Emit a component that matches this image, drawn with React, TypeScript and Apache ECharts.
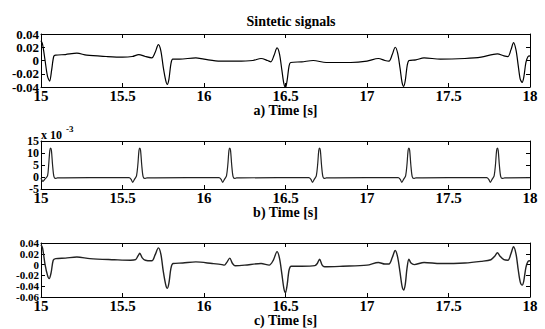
import React, { useEffect, useRef } from "react";
import * as echarts from "echarts";

const TITLE = "Sintetic signals";
const X_NAMES = ["a) Time [s]", "b) Time [s]", "c) Time [s]"];
const X_MIN = 15;
const X_MAX = 18;
const X_STEP = 0.5;
const Y_RANGES = [
  { min: -0.04, max: 0.04, step: 0.02 },
  { min: -5, max: 15, step: 5 },
  { min: -0.06, max: 0.04, step: 0.02 },
];
const B_SCALE_BASE = "x 10";
const B_SCALE_EXP = "-3";

// Signal a) (time [s], value)
const signalA: [number, number][] = [
  [15.0, 0.03], [15.01, 0.024], [15.025, 0.0], [15.04, -0.024], [15.053, -0.031],
  [15.065, -0.015], [15.078, 0.006], [15.09, 0.008], [15.15, 0.009], [15.22, 0.011],
  [15.28, 0.008], [15.4, 0.006], [15.5, 0.005], [15.56, 0.006], [15.6, 0.009],
  [15.64, 0.006], [15.68, 0.004], [15.7, 0.012], [15.72, 0.024], [15.735, 0.015],
  [15.75, -0.01], [15.765, -0.03], [15.775, -0.036], [15.785, -0.028], [15.797, -0.005],
  [15.808, 0.002], [15.85, 0.002], [15.95, 0.004], [16.0, 0.002], [16.1, -0.001],
  [16.2, -0.001], [16.3, 0.0], [16.35, 0.003], [16.39, 0.0], [16.41, -0.002],
  [16.43, 0.008], [16.448, 0.019], [16.463, 0.01], [16.478, -0.015], [16.49, -0.035],
  [16.5, -0.041], [16.51, -0.03], [16.522, -0.008], [16.532, -0.003], [16.6, -0.002],
  [16.67, 0.0], [16.75, -0.003], [16.9, -0.003], [17.0, -0.001], [17.07, 0.003],
  [17.11, 0.0], [17.135, -0.001], [17.155, 0.009], [17.173, 0.02], [17.188, 0.011],
  [17.203, -0.012], [17.215, -0.033], [17.225, -0.039], [17.235, -0.03], [17.247, -0.007],
  [17.258, 0.0], [17.3, 0.001], [17.35, 0.004], [17.45, 0.002], [17.6, 0.003],
  [17.7, 0.005], [17.8, 0.01], [17.84, 0.007], [17.865, 0.006], [17.883, 0.016],
  [17.899, 0.027], [17.914, 0.016], [17.928, -0.008], [17.94, -0.028], [17.952, -0.033],
  [17.962, -0.025], [17.975, -0.003], [17.988, 0.006], [18.0, 0.007],
];

// Signal b) (time [s], value x 10^-3)
const signalB: [number, number][] = [
  [15.0, -0.4], [15.012, -1.8], [15.025, -0.8], [15.04, 0.5], [15.047, 5], [15.054, 11],
  [15.059, 12], [15.064, 11], [15.071, 5], [15.079, 0.3], [15.089, -0.6], [15.1, -0.4],
  [15.3, -0.3], [15.54, -0.3], [15.553, -1.0], [15.562, -2.2], [15.575, -0.8], [15.586, 0.5],
  [15.594, 5], [15.601, 11], [15.606, 12], [15.611, 11], [15.618, 5], [15.626, 0.3],
  [15.636, -0.6], [15.65, -0.4], [15.9, -0.3], [16.092, -0.3], [16.105, -1.0], [16.114, -2.2],
  [16.127, -0.8], [16.138, 0.5], [16.146, 5], [16.153, 11], [16.158, 12], [16.163, 11],
  [16.17, 5], [16.178, 0.3], [16.188, -0.6], [16.2, -0.4], [16.45, -0.3], [16.643, -0.3],
  [16.656, -1.0], [16.665, -2.2], [16.678, -0.8], [16.689, 0.5], [16.697, 5], [16.704, 11],
  [16.709, 12], [16.714, 11], [16.721, 5], [16.729, 0.3], [16.739, -0.6], [16.75, -0.4],
  [17.0, -0.3], [17.191, -0.3], [17.204, -1.0], [17.213, -2.2], [17.226, -0.8], [17.237, 0.5],
  [17.245, 5], [17.252, 11], [17.257, 12], [17.262, 11], [17.269, 5], [17.277, 0.3],
  [17.287, -0.6], [17.3, -0.4], [17.5, -0.3], [17.734, -0.3], [17.747, -1.0], [17.756, -2.2],
  [17.769, -0.8], [17.78, 0.5], [17.788, 5], [17.795, 11], [17.8, 12], [17.805, 11],
  [17.812, 5], [17.82, 0.3], [17.83, -0.6], [17.845, -0.4], [18.0, -0.3],
];

// Signal c) (time [s], value)
const signalC: [number, number][] = [
  [15.0, 0.037], [15.01, 0.03], [15.025, 0.0], [15.04, -0.02], [15.05, -0.026],
  [15.062, -0.015], [15.075, 0.008], [15.09, 0.011], [15.15, 0.012], [15.22, 0.014],
  [15.3, 0.011], [15.45, 0.009], [15.55, 0.008], [15.58, 0.009], [15.595, 0.016],
  [15.606, 0.021], [15.62, 0.013], [15.64, 0.008], [15.68, 0.007], [15.7, 0.018],
  [15.72, 0.031], [15.735, 0.02], [15.75, -0.012], [15.765, -0.037], [15.775, -0.044],
  [15.785, -0.034], [15.797, -0.007], [15.81, 0.002], [15.87, 0.003], [15.95, 0.005],
  [16.05, 0.002], [16.11, 0.0], [16.125, -0.001], [16.14, 0.004], [16.158, 0.012],
  [16.175, 0.002], [16.19, -0.002], [16.25, -0.001], [16.35, 0.002], [16.4, -0.001],
  [16.425, 0.008], [16.448, 0.024], [16.463, 0.012], [16.478, -0.018], [16.49, -0.044],
  [16.5, -0.052], [16.51, -0.038], [16.522, -0.01], [16.535, -0.003], [16.6, -0.003],
  [16.68, -0.002], [16.695, 0.002], [16.709, 0.01], [16.725, -0.001], [16.74, -0.004],
  [16.85, -0.003], [17.0, -0.001], [17.07, 0.004], [17.11, 0.001], [17.135, 0.001],
  [17.155, 0.013], [17.173, 0.026], [17.188, 0.014], [17.203, -0.015], [17.215, -0.04],
  [17.225, -0.047], [17.235, -0.036], [17.245, -0.008], [17.257, 0.01], [17.27, 0.003],
  [17.29, 0.0], [17.35, 0.004], [17.45, 0.002], [17.6, 0.003], [17.7, 0.006],
  [17.76, 0.009], [17.785, 0.016], [17.8, 0.022], [17.815, 0.016], [17.84, 0.009],
  [17.865, 0.008], [17.883, 0.02], [17.899, 0.033], [17.914, 0.02], [17.928, -0.01],
  [17.94, -0.032], [17.952, -0.038], [17.962, -0.03], [17.975, -0.005], [17.988, 0.006],
  [18.0, 0.007],
];

const SIGNALS = [signalA, signalB, signalC];

const FONT = "Liberation Serif, Times New Roman, serif";
const GRIDS = [
  { left: 41, top: 34, width: 489, height: 53 },
  { left: 41, top: 141, width: 489, height: 48 },
  { left: 41, top: 243, width: 489, height: 54 },
];
const NAME_GAPS = [16, 15, 16];
const Y_FONT = [13, 12, 11];

const fmt = (v: number) => String(parseFloat(Number(v).toFixed(6)));

export default function App() {
  const ref = useRef<HTMLDivElement>(null);
  useEffect(() => {
    if (!ref.current) return;
    const chart = echarts.init(ref.current, undefined, { renderer: "svg" });
    const xAxis: any[] = [];
    const yAxis: any[] = [];
    const series: any[] = [];
    const axisLine = { show: true, onZero: false, lineStyle: { color: "#000", width: 1 } };
    const tickStyle = { show: true, inside: true, length: 4, lineStyle: { color: "#000", width: 1 } };
    GRIDS.forEach((g, i) => {
      xAxis.push({
        type: "value", gridIndex: i, position: "bottom", min: X_MIN, max: X_MAX, interval: X_STEP,
        axisLine, axisTick: tickStyle, splitLine: { show: false },
        axisLabel: {
          color: "#000", fontFamily: FONT, fontWeight: "bold", fontSize: 15, margin: 1,
          showMinLabel: true, showMaxLabel: true, hideOverlap: false,
        },
        name: X_NAMES[i], nameLocation: "middle", nameGap: NAME_GAPS[i],
        nameTextStyle: { color: "#000", fontFamily: FONT, fontWeight: "bold", fontSize: 14 },
      });
      xAxis.push({
        type: "value", gridIndex: i, position: "top", min: X_MIN, max: X_MAX, interval: X_STEP,
        axisLine, axisTick: tickStyle, axisLabel: { show: false }, splitLine: { show: false },
      });
      const r = Y_RANGES[i];
      const idxOf = (v: number) => Math.round((v - r.min) / r.step);
      // two left axes share the same scale; each shows every other label so none is dropped
      [0, 1].forEach((parity) => {
        yAxis.push({
          type: "value", gridIndex: i, position: "left", offset: 0,
          min: r.min, max: r.max, interval: r.step,
          axisLine: parity === 0 ? axisLine : { show: false, onZero: false },
          axisTick: parity === 0 ? tickStyle : { show: false },
          splitLine: { show: false },
          axisLabel: {
            color: "#000", fontFamily: FONT, fontWeight: "bold", fontSize: Y_FONT[i], margin: 2,
            showMinLabel: true, showMaxLabel: true, hideOverlap: false,
            formatter: (v: number) => (idxOf(v) % 2 === parity ? fmt(v) : ""),
          },
        });
      });
      yAxis.push({
        type: "value", gridIndex: i, position: "right", min: r.min, max: r.max, interval: r.step,
        axisLine, axisTick: tickStyle, axisLabel: { show: false }, splitLine: { show: false },
      });
      series.push({
        type: "line", xAxisIndex: i * 2, yAxisIndex: i * 3, data: SIGNALS[i],
        showSymbol: false, smooth: 0.3,
        lineStyle: { color: i === 0 ? "#000" : "#222", width: i === 2 ? 1.4 : 1.2 },
      });
    });
    chart.setOption({
      animation: false,
      backgroundColor: "#fff",
      title: {
        text: TITLE, left: 286, top: 9, textAlign: "center",
        textStyle: { color: "#000", fontFamily: FONT, fontWeight: "bold", fontSize: 14 },
      },
      grid: GRIDS.map((g) => ({ ...g, containLabel: false })),
      xAxis, yAxis, series,
      graphic: [
        { type: "text", left: 41, top: 129, style: { text: B_SCALE_BASE, fill: "#000", font: `bold 12px ${FONT}` } },
        { type: "text", left: 66, top: 124, style: { text: B_SCALE_EXP, fill: "#000", font: `bold 9px ${FONT}` } },
      ],
    });
    return () => chart.dispose();
  }, []);
  return <div ref={ref} style={{ position: "fixed", left: 0, top: 0, width: 545, height: 329 }} />;
}
